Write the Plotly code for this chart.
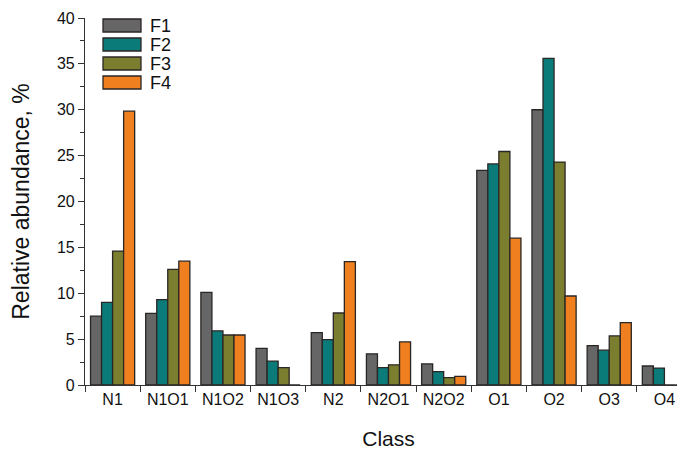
import plotly.graph_objects as go

categories = ["N1", "N1O1", "N1O2", "N1O3", "N2", "N2O1", "N2O2", "O1", "O2", "O3", "O4"]
series_names = ["F1", "F2", "F3", "F4"]
F1 = [7.5, 7.8, 10.1, 4.0, 5.7, 3.4, 2.3, 23.4, 30.0, 4.3, 2.07]
F2 = [9.0, 9.3, 5.9, 2.6, 4.95, 1.9, 1.45, 24.1, 35.6, 3.8, 1.85]
F3 = [14.6, 12.6, 5.45, 1.9, 7.85, 2.2, 0.8, 25.45, 24.3, 5.35, 0]
F4 = [29.85, 13.5, 5.45, 0, 13.45, 4.7, 0.95, 16.0, 9.7, 6.8, 0]
colors = ["#666666", "#0b7b7a", "#7c7e2f", "#f0801f"]
y_ticks = [0, 5, 10, 15, 20, 25, 30, 35, 40]

W, H = 685, 455
L, R, T, B = 77, 1, 10, 78
pw = W - L - R
ph = H - T - B

fig = go.Figure()
for name, vals, col in zip(series_names, [F1, F2, F3, F4], colors):
    fig.add_trace(go.Bar(
        x=categories, y=vals, name=name,
        marker=dict(color=col, line=dict(color="#2a2624", width=1.3)),
        showlegend=False,
    ))

font_fam = "Liberation Sans, Arial, sans-serif"

def px2x(px):
    return (px - L) / pw

def py2y(py):
    return (H - B - py) / ph

# custom legend (large swatches like the reference)
shapes = []
annotations = []
for i, (name, col) in enumerate(zip(series_names, colors)):
    top = 11 + i * 19
    shapes.append(dict(type="rect", xref="paper", yref="paper",
                       x0=px2x(95), x1=px2x(133), y0=py2y(top + 13), y1=py2y(top),
                       fillcolor=col, line=dict(color="#2a2624", width=1.3)))
    annotations.append(dict(text=name, xref="paper", yref="paper",
                            x=px2x(140), y=py2y(top + 6.5), xanchor="left", yanchor="middle",
                            showarrow=False, font=dict(size=18, color="#111111", family=font_fam)))

fig.update_layout(
    width=W, height=H,
    margin=dict(l=L, r=R, t=T, b=B),
    paper_bgcolor="white", plot_bgcolor="white",
    barmode="group", bargap=0.2, bargroupgap=0,
    font=dict(family=font_fam, color="#111111"),
    shapes=shapes, annotations=annotations,
    xaxis=dict(
        type="category", range=[-0.5, 10.5],
        showline=True, linecolor="#333333", linewidth=1.2,
        ticks="outside", tickson="boundaries", ticklen=6, tickcolor="#333333", tickwidth=1.2,
        tickfont=dict(size=16), showgrid=False, automargin=False,
        title=dict(text="Class", font=dict(size=21), standoff=24),
    ),
    yaxis=dict(
        range=[0, 40], tickvals=y_ticks,
        showline=True, linecolor="#333333", linewidth=1.2,
        ticks="outside", ticklen=6, tickcolor="#333333", tickwidth=1.2,
        minor=dict(dtick=2.5, ticks="outside", ticklen=4, tickcolor="#333333", tickwidth=1.2, showgrid=False),
        tickfont=dict(size=16), showgrid=False, zeroline=False, automargin=False,
        title=dict(text="Relative abundance, %", font=dict(size=23), standoff=30),
    ),
)

fig.write_html("out.html")
